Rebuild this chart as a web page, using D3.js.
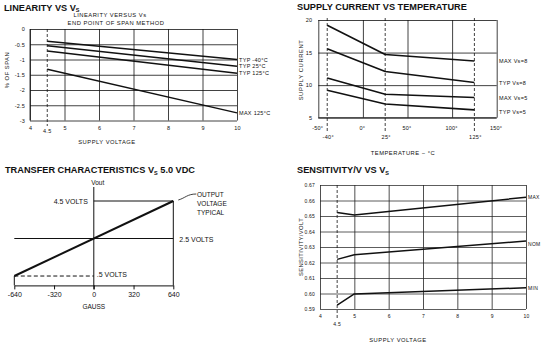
<!DOCTYPE html>
<html><head><meta charset="utf-8">
<script src="https://cdn.jsdelivr.net/npm/d3@7"></script>
<style>
body{margin:0;background:#fff;}
svg{display:block;font-family:"Liberation Sans",Arial,sans-serif;}
</style></head><body>
<svg id="c" width="547" height="349"></svg>
<script>
// ---------- Linearity vs Vs ----------
const linVolts = [4.5, 10];
const linTyp40 = [-0.4, -1.0];
const linTyp25 = [-0.55, -1.22];
const linTyp125 = [-0.72, -1.45];
const linMax125 = [-1.32, -2.75];
const linSeriesLabels = ["TYP -40°C", "TYP 25°C", "TYP 125°C", "MAX 125°C"];
const linXTicks = [4, 5, 6, 7, 8, 9, 10];
const linYTicks = [0, -0.5, -1, -1.5, -2, -2.5, -3];
const linYTickLabels = ["0", "-0.5", "-1", "-1.5", "-2", "-2.5", "-3"];

// ---------- Supply current vs temperature ----------
const scTemps = [-40, 25, 125];
const scMax8 = [19.2, 14.7, 13.7];
const scTyp8 = [15.6, 12.1, 10.4];
const scMax5 = [11.1, 8.6, 8.1];
const scTyp5 = [9.2, 7.1, 6.2];
const scLabels = ["MAX Vs=8", "TYP Vs=8", "MAX Vs=5", "TYP Vs=5"];
const scXTicks = [-50, 0, 50, 100, 150];
const scXTickLabels = ["-50°", "0°", "50°", "100°", "150°"];
const scMarkTemps = [-40, 25, 125];
const scMarkLabels = ["-40°", "25°", "125°"];
const scYTicks = [5, 10, 15, 20];

// ---------- Transfer characteristics ----------
const tcGauss = [-640, 640];
const tcVout = [0.5, 4.5];
const tcXTicks = [-640, -320, 0, 320, 640];
const tcLevelLabels = ["4.5 VOLTS", "2.5 VOLTS", ".5 VOLTS"];
const tcLevels = [4.5, 2.5, 0.5];

// ---------- Sensitivity/V vs Vs ----------
const snVolts = [4.5, 5, 10];
const snMax = [0.6522, 0.6506, 0.6621];
const snNom = [0.622, 0.625, 0.6339];
const snMin = [0.5925, 0.5997, 0.6037];
const snLabels = ["MAX", "NOM", "MIN"];
const snXTicks = [4, 5, 6, 7, 8, 9, 10];
const snYTicks = [0.59, 0.60, 0.61, 0.62, 0.63, 0.64, 0.65, 0.66, 0.67];

const svg = d3.select("#c");
const INK = "#111";

function title(x, y, main, sub, rest) {
  const t = svg.append("text").attr("x", x).attr("y", y)
    .attr("font-size", 9.2).attr("font-weight", "bold").attr("fill", INK);
  t.append("tspan").text(main);
  if (sub) {
    t.append("tspan").attr("font-size", 5.5).attr("dy", 1.5).text(sub);
    if (rest) t.append("tspan").attr("dy", -1.5).text(rest);
  }
}
function styleAxis(g, fs, gridColor) {
  g.select(".domain").remove();
  g.selectAll(".tick line").attr("stroke", gridColor || INK).attr("stroke-width", 0.8);
  g.selectAll(".tick text").attr("font-size", fs).attr("fill", INK)
    .attr("letter-spacing", 0.2)
    .attr("font-family", "'Liberation Sans',Arial,sans-serif");
}
function smallText(x, y, s, fs, anchor, ls) {
  return svg.append("text").attr("x", x).attr("y", y).attr("font-size", fs)
    .attr("letter-spacing", ls === undefined ? 0.3 : ls)
    .attr("text-anchor", anchor || "start").attr("fill", INK).text(s);
}
function seriesLine(xs, ys, xScale, yScale, w) {
  const line = d3.line().x(d => xScale(d[0])).y(d => yScale(d[1]));
  svg.append("path").datum(xs.map((v, i) => [v, ys[i]]))
    .attr("d", line).attr("fill", "none").attr("stroke", INK)
    .attr("stroke-width", w || 1.6).attr("stroke-linejoin", "round");
}

// ===== Chart 1 =====
title(4, 10.5, "LINEARITY VS V", "S");
smallText(110, 17, "LINEARITY  VERSUS  Vs", 5.8, "middle", 0.5);
smallText(116, 25, "END  POINT  OF  SPAN  METHOD", 5.8, "middle", 0.5);
const x1 = d3.scaleLinear([4, 10], [30, 237]);
const y1 = d3.scaleLinear([0, -3], [29, 120.5]);
const g1y = svg.append("g").attr("transform", "translate(30,0)")
  .call(d3.axisLeft(y1).tickValues(linYTicks).tickSize(-207).tickPadding(5)
    .tickFormat((d, i) => linYTickLabels[i]));
styleAxis(g1y, 5.5);
const g1x = svg.append("g").attr("transform", "translate(0,120.5)")
  .call(d3.axisBottom(x1).tickValues(linXTicks).tickSize(-91.5).tickPadding(5.5)
    .tickFormat(d3.format("d")));
styleAxis(g1x, 5.5);
svg.append("line").attr("x1", x1(4)).attr("x2", x1(4)).attr("y1", y1(0)).attr("y2", y1(-3))
  .attr("stroke", INK).attr("stroke-width", 0.8);
svg.append("line").attr("x1", x1(4.5)).attr("x2", x1(4.5)).attr("y1", y1(0)).attr("y2", 126)
  .attr("stroke", INK).attr("stroke-width", 0.8).attr("stroke-dasharray", "3,2");
smallText(x1(4.5), 133, "4.5", 5.5, "middle");
[linTyp40, linTyp25, linTyp125, linMax125].forEach((s, i) => {
  seriesLine(linVolts, s, x1, y1, 1.5);
  smallText(x1(10) + 2, y1(s[s.length - 1]) + 2, linSeriesLabels[i], 5.5);
});
smallText(107, 143.5, "SUPPLY  VOLTAGE", 5.8, "middle", 0.5);
svg.append("text").attr("transform", "translate(9,70) rotate(-90)").attr("letter-spacing", 0.5)
  .attr("text-anchor", "middle").attr("font-size", 5.8).attr("fill", INK).text("%  OF  SPAN");

// ===== Chart 2 =====
title(297, 10, "SUPPLY CURRENT VS TEMPERATURE");
const x2 = d3.scaleLinear([-50, 150], [318.3, 496.7]);
const y2 = d3.scaleLinear([5, 20], [117.7, 20]);
const g2y = svg.append("g").attr("transform", "translate(318.3,0)")
  .call(d3.axisLeft(y2).tickValues(scYTicks).tickSize(-178.4).tickPadding(6)
    .tickFormat(d3.format("d")));
styleAxis(g2y, 5.5);
const g2x = svg.append("g").attr("transform", "translate(0,117.7)")
  .call(d3.axisBottom(x2).tickValues(scXTicks).tickSize(-97.7).tickPadding(8)
    .tickFormat((d, i) => scXTickLabels[i]));
styleAxis(g2x, 5.5);
g2x.selectAll(".tick text").attr("dx", "-0.2em");
scMarkTemps.forEach((t, i) => {
  svg.append("line").attr("x1", x2(t)).attr("x2", x2(t)).attr("y1", 18).attr("y2", 132)
    .attr("stroke", INK).attr("stroke-width", 0.8).attr("stroke-dasharray", "3,2");
  smallText(x2(t) + 1, 138.5, scMarkLabels[i], 5.5, "middle");
});
svg.append("line").attr("x1", x2(-50)).attr("x2", x2(150)).attr("y1", y2(5)).attr("y2", y2(5))
  .attr("stroke", INK).attr("stroke-width", 0.8);
[scMax8, scTyp8, scMax5, scTyp5].forEach((s, i) => {
  seriesLine(scTemps, s, x2, y2, 1.6);
  smallText(499, y2(s[s.length - 1]) + 2 + (i === 3 ? 2 : 0), scLabels[i], 5.5);
});
smallText(403, 155, "TEMPERATURE  −  °C", 5.8, "middle", 0.5);
svg.append("text").attr("transform", "translate(302.5,70) rotate(-90)").attr("letter-spacing", 0.6)
  .attr("text-anchor", "middle").attr("font-size", 5.8).attr("fill", INK).text("SUPPLY  CURRENT");

// ===== Chart 3 =====
title(5, 173, "TRANSFER CHARACTERISTICS V", "S", " 5.0 VDC");
const x3 = d3.scaleLinear([-640, 640], [14.3, 173.3]);
const y3 = d3.scaleLinear([0, 4.5], [285.4, 201]);
const g3x = svg.append("g").attr("transform", "translate(0," + y3(0) + ")")
  .call(d3.axisBottom(x3).tickValues(tcXTicks).tickSize(4).tickSizeOuter(0).tickPadding(3)
    .tickFormat(d => d < 0 ? "-" + Math.abs(d) : String(d)));
g3x.select(".domain").attr("stroke", INK).attr("stroke-width", 1);
g3x.selectAll(".tick line").attr("stroke", INK).attr("stroke-width", 1);
g3x.selectAll(".tick text").attr("font-size", 7).attr("fill", INK)
  .attr("font-family", "'Liberation Sans',Arial,sans-serif");
// vertical axis (Vout)
svg.append("line").attr("x1", x3(0)).attr("x2", x3(0)).attr("y1", 187).attr("y2", y3(0) + 4)
  .attr("stroke", INK).attr("stroke-width", 1);
smallText(x3(0) + 4, 185, "Vout", 6.5, "middle", 0);
// 4.5 level
svg.append("line").attr("x1", x3(0)).attr("x2", x3(640)).attr("y1", y3(4.5)).attr("y2", y3(4.5))
  .attr("stroke", INK).attr("stroke-width", 1);
svg.append("line").attr("x1", x3(640)).attr("x2", x3(640)).attr("y1", y3(4.5)).attr("y2", y3(0))
  .attr("stroke", INK).attr("stroke-width", 1);
// 2.5 level
svg.append("line").attr("x1", x3(-640)).attr("x2", x3(640)).attr("y1", y3(2.5)).attr("y2", y3(2.5))
  .attr("stroke", INK).attr("stroke-width", 1);
// 0.5 level dashed
svg.append("line").attr("x1", x3(-640)).attr("x2", x3(0)).attr("y1", y3(0.5)).attr("y2", y3(0.5))
  .attr("stroke", INK).attr("stroke-width", 1).attr("stroke-dasharray", "4,2.5");
svg.append("line").attr("x1", x3(-640)).attr("x2", x3(-640)).attr("y1", y3(0.5)).attr("y2", y3(0))
  .attr("stroke", INK).attr("stroke-width", 1);
smallText(x3(0) - 6, y3(4.5) + 3, tcLevelLabels[0], 7, "end", 0);
smallText(x3(640) + 6, y3(2.5) + 3, tcLevelLabels[1], 7, "start", 0);
smallText(x3(0) + 3, y3(0.5) + 1, tcLevelLabels[2], 7, "start", 0);
seriesLine(tcGauss, tcVout, x3, y3, 2);
svg.append("path")
  .attr("d", `M${x3(640) + 5},${y3(4.5) - 1} C${x3(640) + 12},${y3(4.5) - 3} ${x3(640) + 14},${y3(4.5) - 7} ${x3(640) + 23},${y3(4.5) - 7}`)
  .attr("fill", "none").attr("stroke", INK).attr("stroke-width", 0.8);
smallText(197, 197, "OUTPUT", 6.5, "start", 0);
smallText(197, 206, "VOLTAGE", 6.5, "start", 0);
smallText(197, 215, "TYPICAL", 6.5, "start", 0);
smallText(x3(0), 309, "GAUSS", 6.5, "middle", 0);

// ===== Chart 4 =====
title(297, 173, "SENSITIVITY/V VS V", "S");
const x4 = d3.scaleLinear([4, 10], [320, 526]);
const y4 = d3.scaleLinear([0.59, 0.67], [309, 185]);
const g4y = svg.append("g").attr("transform", "translate(320,0)")
  .call(d3.axisLeft(y4).tickValues(snYTicks).tickSize(-206).tickPadding(5)
    .tickFormat(d3.format(".2f")));
styleAxis(g4y, 5, "#333");
const g4x = svg.append("g").attr("transform", "translate(0,309)")
  .call(d3.axisBottom(x4).tickValues(snXTicks).tickSize(-124).tickPadding(5)
    .tickFormat(d3.format("d")));
styleAxis(g4x, 5, "#222");
svg.append("line").attr("x1", x4(4.5)).attr("x2", x4(4.5)).attr("y1", y4(0.67)).attr("y2", 320)
  .attr("stroke", INK).attr("stroke-width", 0.8).attr("stroke-dasharray", "3,2");
smallText(x4(4.5), 326, "4.5", 5, "middle");
[snMax, snNom, snMin].forEach((s, i) => {
  seriesLine(snVolts, s, x4, y4, 1.5);
  smallText(528, y4(s[s.length - 1]) + 2 + (i === 1 ? 3 : 0), snLabels[i], 5);
});
smallText(398, 342, "SUPPLY  VOLTAGE", 5.8, "middle", 0.5);
svg.append("text").attr("transform", "translate(302.5,247) rotate(-90)").attr("letter-spacing", 0.4)
  .attr("text-anchor", "middle").attr("font-size", 5.8).attr("fill", INK).text("SENSITIVITY/VOLT");
</script>
</body></html>
